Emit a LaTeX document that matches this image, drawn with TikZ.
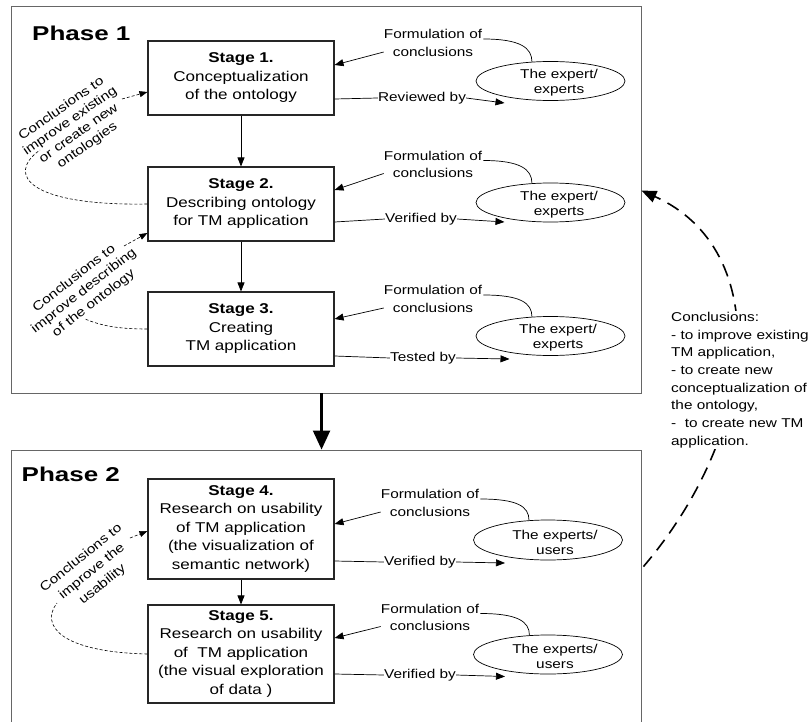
\documentclass[tikz,border=0pt]{standalone}
\usepackage{fontspec}
\setmainfont[FakeStretch=1.2]{Liberation Sans}
\newfontfamily\phasefont[FakeStretch=1.3]{Liberation Sans}
\usetikzlibrary{arrows.meta,shapes.geometric,calc}
\begin{document}
\begin{tikzpicture}[x=1bp,y=-1bp,
  phasebox/.style={draw=black!60, line width=0.9bp, minimum width=630bp, inner sep=0},
  phaselabel/.style={anchor=base west, inner sep=0, font=\phasefont\bfseries\fontsize{20bp}{24bp}\selectfont},
  stagebox/.style={draw=black!85, line width=1.1bp, minimum width=186bp, inner sep=0, align=center, font=\fontsize{14.2bp}{18.5bp}\selectfont},
  small/.style={inner sep=0, align=center, font=\fontsize{12.8bp}{17.7bp}\selectfont},
  ell/.style={draw, ellipse, line width=0.7bp, minimum width=149bp, minimum height=39bp, inner sep=0},
  elltext/.style={inner sep=0, align=center, font=\fontsize{12.8bp}{15bp}\selectfont},
  rottext/.style={inner sep=0, align=center, font=\fontsize{12.8bp}{#1}\selectfont},
  conn/.style={line width=0.7bp},
  arr/.style={conn, -{Triangle[length=9bp,width=7bp]}},
  dsh/.style={line width=0.6bp, dash pattern=on 3bp off 2bp},
  dsharr/.style={dsh, -{Triangle[length=8bp,width=6bp]}},
  fb/.style={line width=1.6bp, dash pattern=on 13bp off 8bp, -{Triangle[length=15bp,width=12bp]}},
  bigarr/.style={line width=2.2bp, -{Triangle[length=19bp,width=17bp]}}
]
\clip (0,0) rectangle (811,722);
\fill[white] (0,0) rectangle (811,722);

% phases
\node[phasebox, minimum height=387bp] (p1) at (326,199.5) {};
\node[phasebox, minimum height=300bp] (p2) at (326,600) {};
\node[phaselabel] (ph1) at (32,41) {Phase 1};
\node[phaselabel] (ph2) at (21.5,481.5) {Phase 2};
\draw[bigarr] ($(p1.south west)+(311,0)$) -- ($(p2.north west)+(311,0)$);

% stages
\node[stagebox, minimum height=74bp] (s1) at (241,78) {\textbf{Stage 1.}\\Conceptualization\\of the ontology};
\node[stagebox, minimum height=74bp] (s2) at (241,204) {\textbf{Stage 2.}\\Describing ontology\\for TM application};
\node[stagebox, minimum height=74bp] (s3) at (241,329) {\textbf{Stage 3.}\\Creating\\TM application};
\node[stagebox, minimum height=100bp] (s4) at (241,529) {\textbf{Stage 4.}\\Research on usability\\of TM application\\(the visualization of\\semantic network)};
\node[stagebox, minimum height=98bp] (s5) at (241,654) {\textbf{Stage 5.}\\Research on usability\\of \ TM application\\(the visual exploration\\of data )};
\draw[arr] (s1) -- (s2);
\draw[arr] (s2) -- (s3);
\draw[arr] (s4) -- (s5);

% left feedback loops
\node[rottext=15bp, rotate=35] (cA) at (74.5,127.5) {Conclusions to\\improve existing\\or create new\\ontologies};
\coordinate (ca) at (40,150);
\coordinate (cb) at (122,99);
\draw[dsh] (s2.west) .. controls (30,206) and (5,175) .. (ca);
\draw[dsharr] (cb) -- ($(s1.west)+(0,14)$);

\node[rottext=15.8bp, rotate=38] (cB) at (84,291) {Conclusions to\\improve describing\\of the ontology};
\coordinate (cc) at (85,319);
\coordinate (cd) at (124,246);
\draw[dsh] (s3.west) .. controls (115,329) and (100,325) .. (cc);
\draw[dsharr] (cd) -- ($(s2.west)+(0,29)$);

\node[rottext=17bp, rotate=39] (cC) at (92,571.5) {Conclusions to\\improve the\\usability};
\coordinate (ce) at (57,603);
\coordinate (cf) at (130,538);
\draw[dsh] (s5.west) .. controls (60,652) and (40,625) .. (ce);
\draw[dsharr] (cf) -- ($(s4.west)+(0,2)$);

% row 1
\node[small] (f1) at (433,43) {Formulation of\\conclusions};
\node[ell] (e1) at (550.5,81) {};
\node[elltext] (x1) at (559,83) {The expert/\\experts};
\node[small] (r1) at (422,98) {Reviewed by};
\draw[arr] ($(f1.west)+(0,9)$) -- ($(s1.east)+(0,-13)$);
\draw[conn] ($(f1.east)+(1,-4)$) .. controls +(37,0) and +(0,-14) .. (e1.134);
\draw[conn] ($(s1.east)+(0,21)$) -- (r1.west);
\draw[arr] (r1.east) -- ($(e1.center)+(-46,22)$);

% row 2
\node[small] (f2) at (433,164.5) {Formulation of\\conclusions};
\node[ell] (e2) at (550.5,202.5) {};
\node[elltext] (x2) at (559,204.5) {The expert/\\experts};
\node[small] (v2) at (421,219) {Verified by};
\draw[arr] ($(f2.west)+(0,9)$) -- ($(s2.east)+(0,-14)$);
\draw[conn] ($(f2.east)+(1,-4)$) .. controls +(37,0) and +(0,-14) .. (e2.134);
\draw[conn] ($(s2.east)+(0,18)$) -- (v2.west);
\draw[arr] (v2.east) -- ($(e2.center)+(-46,19.5)$);

% row 3
\node[small] (f3) at (433,299) {Formulation of\\conclusions};
\node[ell] (e3) at (550.5,336) {};
\node[elltext] (x3) at (558,338) {The expert/\\experts};
\node[small] (t3) at (423,358) {Tested by};
\draw[arr] ($(f3.west)+(0,9)$) -- ($(s3.east)+(0,-10)$);
\draw[conn] ($(f3.east)+(1,-4)$) .. controls +(37,0) and +(0,-14) .. (e3.134);
\draw[conn] ($(s3.east)+(0,27)$) -- (t3.west);
\draw[arr] (t3.east) -- ($(e3.center)+(-41,23)$);

% row 4
\node[small] (f4) at (430,503) {Formulation of\\conclusions};
\node[ell, minimum height=40bp] (e4) at (548,540) {};
\node[elltext] (x4) at (555,542.5) {The experts/\\users};
\node[small] (v4) at (420,562) {Verified by};
\draw[arr] ($(f4.west)+(0,9)$) -- ($(s4.east)+(0,-5)$);
\draw[conn] ($(f4.east)+(1,-4)$) .. controls +(37,0) and +(0,-14) .. (e4.134);
\draw[conn] ($(s4.east)+(0,32)$) -- (v4.west);
\draw[arr] (v4.east) -- ($(e4.center)+(-43,23)$);

% row 5
\node[small] (f5) at (430,617.5) {Formulation of\\conclusions};
\node[ell] (e5) at (548,654.5) {};
\node[elltext] (x5) at (555,656) {The experts/\\users};
\node[small] (v5) at (420,675) {Verified by};
\draw[arr] ($(f5.west)+(0,9)$) -- ($(s5.east)+(0,-16)$);
\draw[conn] ($(f5.east)+(1,-4)$) .. controls +(37,0) and +(0,-14) .. (e5.134);
\draw[conn] ($(s5.east)+(0,20)$) -- (v5.west);
\draw[arr] (v5.east) -- ($(e5.center)+(-43,22)$);

% global feedback
\draw[fb] ($(p2.north east)+(2,117)$) .. controls (760,430) and (774,250) .. ($(p1.north east)+(0,185)$);
\node[small, align=left, anchor=west, fill=white, inner sep=1bp] (cn) at (670,380) {Conclusions:\\- to improve existing\\TM application,\\- to create new\\conceptualization of\\the ontology,\\- \ to create new TM\\application.};
\end{tikzpicture}
\end{document}
